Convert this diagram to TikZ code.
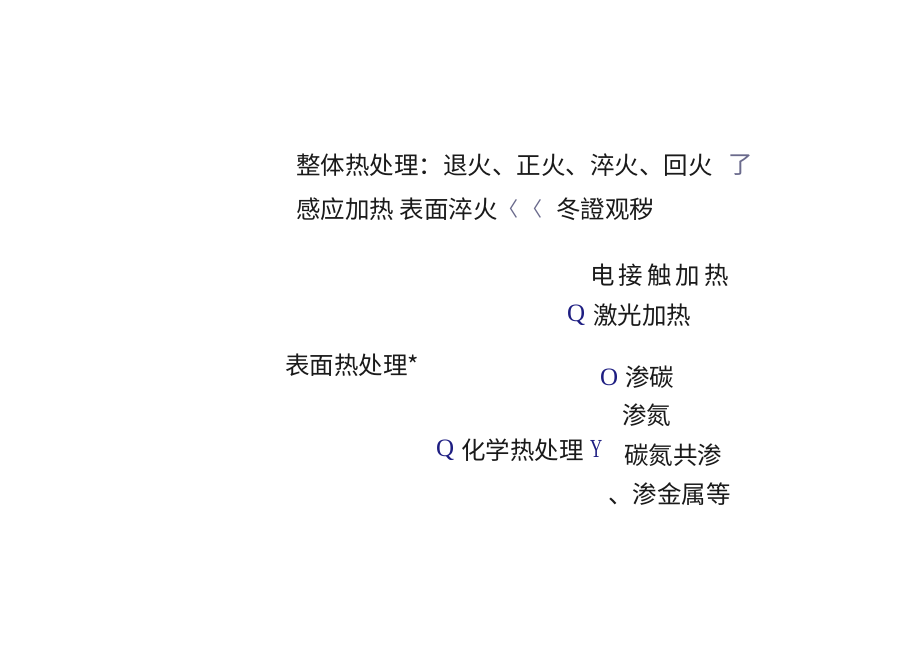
\documentclass[tikz,border=0pt]{standalone}
\usepackage{fontspec}
\newfontfamily\cjk{Noto Sans CJK SC}
\newfontfamily\serifq{Liberation Serif}
\definecolor{txt}{HTML}{1A1A1A}
\definecolor{qblue}{HTML}{1E1E82}
\definecolor{gblue}{HTML}{6A6A8C}
\begin{document}
\begin{tikzpicture}[x=1pt,y=-1pt,
  t/.style={anchor=west,inner sep=0pt,font=\cjk\fontsize{24.5}{28}\selectfont,text=txt},
  q/.style={anchor=west,inner sep=0pt,font=\serifq\fontsize{25}{28}\selectfont,text=qblue},
  g/.style={anchor=west,inner sep=0pt,font=\cjk\fontsize{24.5}{28}\selectfont,text=gblue},
  chev/.style={anchor=center,inner sep=0pt,font=\cjk\fontsize{20}{22}\selectfont,text=gblue}]
\useasboundingbox[fill=white] (0,0) rectangle (920,651);
\node[t] (l1) at (296,165) {整体热处理：退火、正火、淬火、回火};
\node[g] (l1g) at (728,165) {了};
\node[t] (l2a) at (296,209) {感应加热 表面淬火};
\node[chev] (l2b) at (508,209) {〈};
\node[chev] (l2c) at (532,209) {〈};
\node[t] (l2d) at (556,209) {冬證观秽};
\node[t] (e1) at (590,275) {电\,接\,触\,加\,热};
\node[q] (q1) at (567,315) {Q};
\node[t] (e2) at (593,315) {激光加热};
\node[t] (bm) at (285,365) {表面热处理*};
\node[q] (o1) at (600,377) {O};
\node[t] (s1) at (625,377) {渗碳};
\node[t] (s2) at (622,415) {渗氮};
\node[q] (q2) at (436,450) {Q};
\node[t] (hx) at (461,450) {化学热处理};
\node[q,font=\serifq\fontsize{26}{28}\selectfont] (y1) at (590,449) {\scalebox{0.65}[1]{Y}};
\node[t] (s3) at (624,455) {碳氮共渗};
\node[t] (s4) at (608,494) {、渗金属等};
\end{tikzpicture}
\end{document}
